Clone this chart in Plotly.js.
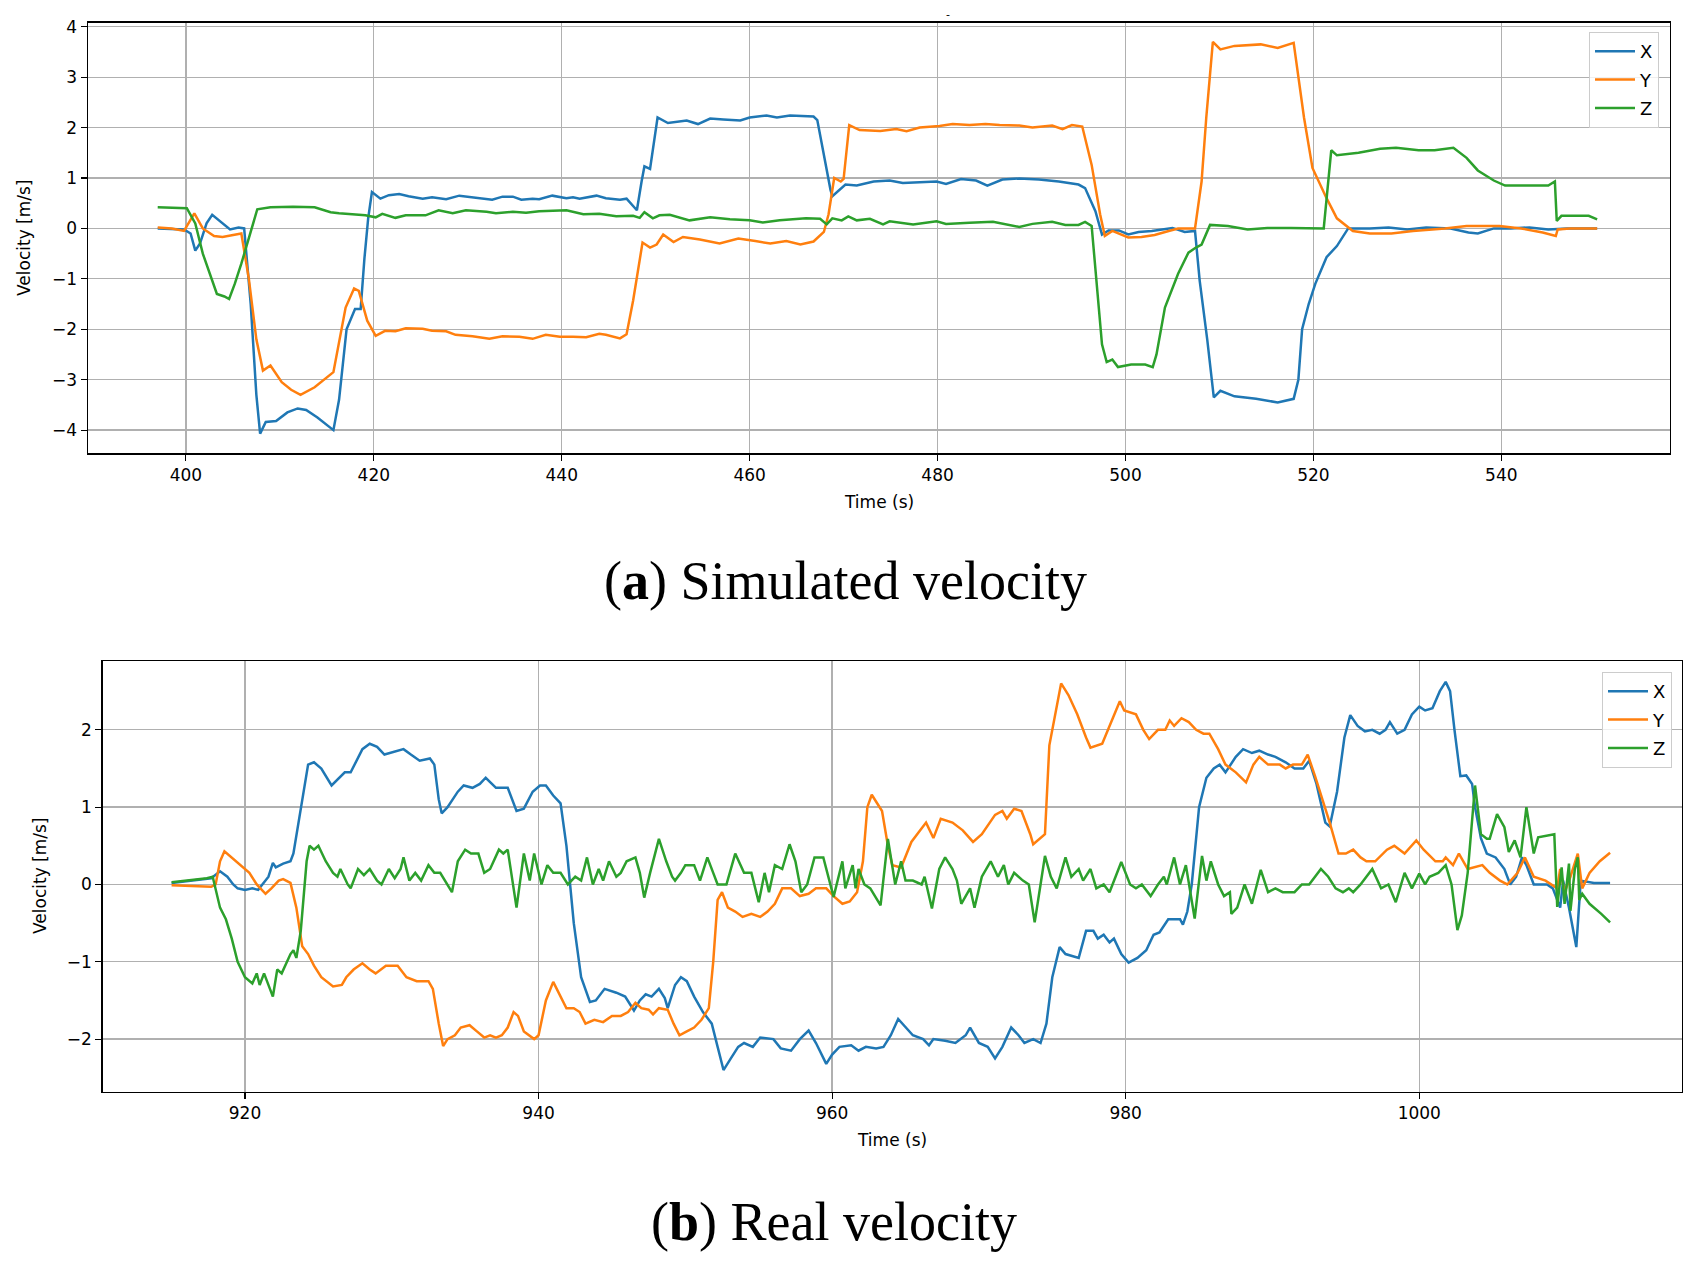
<!DOCTYPE html>
<html>
<head>
<meta charset="utf-8">
<script src="https://cdn.plot.ly/plotly-3.0.1.min.js"></script>
<style>
  html, body { margin: 0; padding: 0; background: #fff; }
  #chart { width: 1699px; height: 1265px; }
</style>
</head>
<body>
<div id="chart"></div>
<script>
// ── (a) simulated velocity ─────────────────────────────────────────────────
const simXt = [
  397, 398.5, 399.8, 400.5, 401, 401.5, 402.2, 402.8, 403.6, 404.7,
  405.6, 406.2, 406.9, 407.5, 407.9, 408.5, 409.6, 410.8, 411.9, 412.8,
  414, 415, 415.7, 416.3, 417.1, 418, 418.6, 419, 419.4, 419.8,
  420.7, 421.6, 422.7, 423.7, 425.2, 426.2, 427.7, 429.1, 430.5, 432.6,
  433.7, 434.8, 435.7, 436.9, 437.6, 439, 440.5, 441.2, 441.9, 443.7,
  444.7, 446.2, 446.9, 448, 448.5, 448.8, 449.4, 449.7, 450.2, 451.3,
  453.3, 454.5, 455.8, 457.2, 459, 460, 461.8, 462.9, 464.3, 466.8,
  467.2, 468.6, 468.8, 470.2, 471.4, 473.2, 474.9, 476.3, 478.1, 479.9,
  480.9, 482.5, 484.1, 485.3, 486.9, 488.7, 490.8, 492.9, 495, 495.7,
  496.8, 497.5, 498.2, 499.3, 500.3, 501.4, 502.8, 505, 506.3, 507.4,
  507.9, 508.7, 509.4, 510.1, 511.6, 513.9, 516.2, 517.9, 518.4, 518.8,
  519.5, 520.2, 521.4, 522.5, 523.7, 526, 528, 530, 532, 534.6,
  536.5, 537.5, 539.2, 541, 543, 545, 547, 550.2
];
const simX = [
  0.0, -0.01, -0.02, -0.1, -0.44, -0.3, 0.1, 0.27, 0.15, -0.02,
  0.02, 0.0, -1.5, -3.3, -4.07, -3.84, -3.82, -3.65, -3.57, -3.6,
  -3.75, -3.9, -4.0, -3.4, -2.0, -1.6, -1.6, -0.6, 0.2, 0.72,
  0.59, 0.66, 0.68, 0.64, 0.59, 0.62, 0.58, 0.65, 0.62, 0.57,
  0.63, 0.63, 0.57, 0.59, 0.58, 0.65, 0.6, 0.62, 0.59, 0.65,
  0.6, 0.57, 0.59, 0.36, 0.93, 1.23, 1.18, 1.59, 2.2, 2.09,
  2.14, 2.07, 2.18, 2.16, 2.14, 2.2, 2.24, 2.2, 2.24, 2.22,
  2.15, 0.77, 0.64, 0.87, 0.85, 0.93, 0.95, 0.9, 0.92, 0.93,
  0.88, 0.98, 0.95, 0.85, 0.97, 0.99, 0.97, 0.93, 0.87, 0.8,
  0.34, -0.12, -0.04, -0.04, -0.12, -0.07, -0.05, 0.01, -0.07, -0.05,
  -1.04, -2.2, -3.35, -3.22, -3.33, -3.38, -3.45, -3.38, -3.0, -2.0,
  -1.5, -1.1, -0.57, -0.35, 0.0, 0.0, 0.02, -0.02, 0.02, 0.0,
  -0.08, -0.1, 0.0, 0.0, 0.02, -0.02, 0.0, 0.0
];

const simYt = [
  397, 398.5, 399.8, 400.9, 401.8, 403, 403.9, 405, 405.9, 406.7,
  407.5, 408.2, 409, 410.2, 411.2, 412.2, 413.7, 415.7, 416.3, 417,
  417.9, 418.4, 419.3, 420.2, 421.2, 422.3, 423.4, 425.2, 426.2, 427.7,
  428.7, 430.5, 432.3, 433.7, 435.5, 436.9, 438.3, 439.8, 441.2, 442.6,
  444, 444.7, 446.2, 446.9, 447.6, 448.6, 449.4, 450.1, 450.8, 451.9,
  452.9, 454.7, 456.8, 458.8, 460.6, 462.2, 463.9, 465.4, 466.8, 467.9,
  468.4, 469, 469.7, 470, 470.6, 471.7, 473.9, 475.6, 476.7, 478.1,
  480.2, 481.6, 483.4, 485.1, 486.6, 488.7, 490.1, 492.2, 493.3, 494.3,
  495.4, 496.4, 497.3, 497.8, 498.6, 499.3, 500.3, 501.7, 503.1, 504.6,
  505.6, 507.4, 508.1, 508.6, 509.3, 510.1, 511.6, 514.4, 516.2, 517.9,
  519, 519.9, 521.4, 522.5, 524.2, 526, 528.3, 530.6, 534, 536.3,
  539.8, 542.1, 544.4, 545.8, 546, 547.3, 550.2
];
const simY = [
  0.02, 0.0, -0.05, 0.3, 0.0, -0.15, -0.17, -0.13, -0.1, -1.0,
  -2.2, -2.82, -2.72, -3.05, -3.2, -3.3, -3.15, -2.85, -2.22, -1.57,
  -1.19, -1.24, -1.83, -2.13, -2.03, -2.04, -1.98, -1.99, -2.03, -2.04,
  -2.11, -2.14, -2.19, -2.14, -2.15, -2.19, -2.11, -2.15, -2.15, -2.16,
  -2.09, -2.11, -2.18, -2.1, -1.43, -0.28, -0.38, -0.32, -0.12, -0.27,
  -0.17, -0.22, -0.3, -0.2, -0.25, -0.3, -0.25, -0.32, -0.26, -0.07,
  0.28, 1.0, 0.93, 0.98, 2.05, 1.95, 1.93, 1.97, 1.93, 2.0,
  2.03, 2.07, 2.05, 2.07, 2.05, 2.04, 2.0, 2.04, 1.97, 2.05,
  2.02, 1.26, 0.28, -0.15, -0.05, -0.1, -0.18, -0.17, -0.13, -0.05,
  0.0, 0.0, 0.93, 2.2, 3.7, 3.55, 3.62, 3.65, 3.58, 3.68,
  2.2, 1.2, 0.6, 0.2, -0.05, -0.1, -0.1, -0.05, 0.0, 0.05,
  0.05, 0.0, -0.08, -0.15, -0.02, 0.0, 0.0
];

const simZt = [
  397, 399, 400.1, 401, 401.8, 403.3, 404.1, 404.6, 405.2, 405.9,
  406.8, 407.6, 409, 411.4, 413.7, 415.4, 416.3, 419.1, 420.2, 420.9,
  422.3, 423.4, 425.5, 426.9, 428.4, 429.8, 432, 433, 434.8, 436.2,
  437.6, 440.5, 442.3, 444, 445.8, 447.6, 448.3, 448.8, 449.7, 450.4,
  451.5, 453.6, 455.8, 457.9, 460, 461.4, 463.2, 466, 467.5, 468.2,
  468.8, 469.8, 470.5, 471.4, 472.8, 474.2, 474.9, 477.4, 479.9, 480.9,
  483.4, 485.9, 488.7, 490.1, 492.2, 493.6, 495, 495.7, 496.4, 496.9,
  497.5, 498, 498.6, 499.2, 500.6, 502.1, 502.9, 503.3, 504.2, 505.6,
  506.7, 507.5, 508.1, 509, 510.9, 513, 515.1, 517.6, 521.1, 521.9,
  522.5, 524.8, 527.1, 528.8, 531.2, 532.9, 534.9, 536.3, 537.5, 539.2,
  540.4, 543.2, 545, 545.7, 545.9, 546.4, 549.3, 550.2
];
const simZ = [
  0.42, 0.4, 0.4, 0.1, -0.5, -1.3, -1.35, -1.4, -1.1, -0.7,
  -0.1, 0.38, 0.42, 0.43, 0.42, 0.32, 0.3, 0.26, 0.22, 0.29,
  0.21, 0.26, 0.26, 0.36, 0.3, 0.36, 0.33, 0.3, 0.33, 0.31,
  0.34, 0.36, 0.28, 0.29, 0.24, 0.25, 0.21, 0.32, 0.2, 0.26,
  0.27, 0.16, 0.22, 0.18, 0.16, 0.12, 0.16, 0.2, 0.19, 0.08,
  0.2, 0.16, 0.24, 0.16, 0.19, 0.08, 0.14, 0.08, 0.14, 0.09,
  0.11, 0.13, 0.03, 0.09, 0.13, 0.07, 0.07, 0.13, 0.05, -1.04,
  -2.3, -2.65, -2.6, -2.75, -2.7, -2.7, -2.75, -2.5, -1.57, -0.9,
  -0.48, -0.38, -0.32, 0.07, 0.05, -0.02, 0.01, 0.01, 0.0, 1.55,
  1.45, 1.5, 1.58, 1.6, 1.55, 1.55, 1.6, 1.4, 1.15, 0.95,
  0.85, 0.85, 0.85, 0.93, 0.15, 0.25, 0.25, 0.18
];

// ── (b) real velocity ─────────────────────────────────────────────────────────
const realXt = [
  915, 916.3, 917.7, 918.3, 918.8, 919.2, 919.5, 920, 920.5, 920.9,
  921.6, 921.9, 922.1, 922.6, 923.1, 923.3, 923.8, 924.3, 924.7, 925.2,
  925.9, 926.3, 926.8, 927.2, 927.6, 928, 928.5, 929, 929.5, 930.2,
  930.8, 931.3, 931.9, 932.6, 932.9, 933.2, 933.4, 933.8, 934.5, 934.9,
  935.5, 936, 936.4, 937.1, 937.9, 938.5, 939, 939.6, 940.1, 940.5,
  941, 941.5, 941.9, 942.4, 942.9, 943.5, 943.9, 944.5, 945.3, 945.9,
  946.5, 946.9, 947.3, 947.7, 948.2, 948.6, 948.8, 949.3, 949.7, 950.1,
  950.6, 951.2, 951.8, 952.2, 952.6, 953.1, 953.6, 954, 954.6, 955.1,
  956, 956.5, 957.2, 957.8, 958.4, 958.9, 959.6, 960, 960.5, 961.3,
  961.8, 962.3, 963, 963.5, 964, 964.5, 965, 965.5, 966.2, 966.6,
  966.9, 967.7, 968.4, 969.1, 969.4, 970, 970.6, 971.1, 971.6, 972.2,
  972.7, 973.1, 973.7, 974.2, 974.6, 975, 975.5, 975.9, 976.8, 977.3,
  977.8, 978.1, 978.5, 978.9, 979.2, 979.7, 980.2, 980.8, 981.4, 981.9,
  982.3, 982.9, 983.7, 983.9, 984.2, 984.5, 985, 985.5, 986, 986.4,
  986.8, 987.5, 988, 988.6, 989.1, 989.7, 990.2, 990.9, 991.5, 992.1,
  992.5, 993, 993.6, 993.9, 994.4, 994.9, 995.3, 995.8, 996.3, 996.8,
  997.3, 997.7, 998, 998.5, 999, 999.5, 1000, 1000.4, 1000.9, 1001.4,
  1001.8, 1002.1, 1002.4, 1002.8, 1003.2, 1003.6, 1003.8, 1004.2, 1004.6, 1005.2,
  1005.8, 1006.2, 1006.6, 1007, 1007.3, 1007.8, 1008.7, 1009.1, 1009.6, 1009.8,
  1010.2, 1010.7, 1011, 1011.9, 1013
];
const realX = [
  0.02, 0.05, 0.08, 0.17, 0.1, 0.0, -0.05, -0.07, -0.05, -0.07,
  0.1, 0.28, 0.22, 0.27, 0.3, 0.4, 1.0, 1.55, 1.58, 1.5,
  1.28, 1.35, 1.45, 1.45, 1.6, 1.75, 1.82, 1.78, 1.68, 1.72,
  1.75, 1.68, 1.6, 1.63, 1.55, 1.1, 0.92, 1.0, 1.2, 1.28,
  1.25, 1.3, 1.38, 1.25, 1.25, 0.95, 0.98, 1.2, 1.28, 1.28,
  1.15, 1.05, 0.5, -0.5, -1.2, -1.52, -1.5, -1.35, -1.4, -1.45,
  -1.63, -1.5, -1.42, -1.45, -1.35, -1.47, -1.6, -1.3, -1.2, -1.25,
  -1.45, -1.65, -1.8, -2.1, -2.4, -2.25, -2.1, -2.05, -2.1, -1.98,
  -2.0, -2.12, -2.15, -2.0, -1.89, -2.05, -2.32, -2.2, -2.1, -2.08,
  -2.15, -2.1, -2.12, -2.1, -1.95, -1.74, -1.85, -1.95, -2.0, -2.08,
  -2.0, -2.02, -2.05, -1.95, -1.85, -2.05, -2.1, -2.25, -2.1, -1.85,
  -1.95, -2.05, -2.0, -2.05, -1.8, -1.2, -0.81, -0.9, -0.95, -0.6,
  -0.6, -0.7, -0.65, -0.75, -0.7, -0.9, -1.01, -0.95, -0.85, -0.65,
  -0.62, -0.45, -0.45, -0.52, -0.35, 0.0, 1.0, 1.38, 1.5, 1.55,
  1.45, 1.65, 1.75, 1.7, 1.73, 1.68, 1.65, 1.58, 1.5, 1.5,
  1.6, 1.3, 0.8, 0.75, 1.2, 1.9, 2.19, 2.05, 1.98, 2.0,
  1.95, 2.0, 2.1, 1.95, 2.0, 2.2, 2.3, 2.25, 2.28, 2.5,
  2.62, 2.5, 2.0, 1.4, 1.41, 1.3, 1.0, 0.6, 0.4, 0.35,
  0.2, 0.0, 0.1, 0.35, 0.25, 0.0, 0.0, -0.05, -0.3, 0.05,
  -0.3, -0.81, 0.05, 0.02, 0.02
];

const realYt = [
  915, 916.3, 917.7, 918, 918.3, 918.6, 919.1, 919.7, 920.3, 920.8,
  921.4, 921.8, 922.3, 922.6, 923.1, 923.5, 923.9, 924.3, 924.7, 925.2,
  926, 926.6, 926.9, 927.4, 928, 928.5, 928.9, 929.6, 930.4, 931,
  931.7, 932.5, 932.8, 933.2, 933.5, 933.8, 934.3, 934.7, 935.3, 935.8,
  936.3, 936.7, 937.1, 937.5, 937.9, 938.3, 938.6, 939, 939.7, 940,
  940.5, 941, 941.5, 941.9, 942.4, 942.8, 943.2, 943.8, 944.4, 945,
  945.6, 946.1, 946.6, 947, 947.5, 947.8, 948.2, 948.8, 949.2, 949.6,
  950.1, 950.6, 951.1, 951.6, 951.9, 952.2, 952.5, 952.9, 953.4, 953.9,
  954.5, 955.1, 955.6, 956.1, 956.6, 957.2, 957.8, 958.4, 958.9, 959.6,
  960.1, 960.7, 961.2, 961.7, 962.1, 962.4, 962.7, 963.2, 963.4, 963.8,
  964.1, 964.7, 965.4, 966, 966.4, 966.9, 967.4, 968.2, 968.9, 969.6,
  970.2, 971.1, 971.6, 971.9, 972.4, 972.9, 973.5, 973.7, 974.2, 974.5,
  974.8, 975.6, 976.1, 976.7, 977.3, 977.6, 978.4, 979, 979.6, 979.9,
  980.3, 980.7, 981.2, 981.6, 982.2, 982.7, 983, 983.3, 983.8, 984.3,
  984.8, 985.3, 985.7, 986.3, 986.8, 987.5, 988.2, 988.7, 989.1, 989.7,
  990.5, 990.9, 991.4, 992, 992.4, 992.9, 993.9, 994.5, 995, 995.5,
  996, 996.4, 997, 997.8, 998.3, 999, 999.8, 1000.3, 1001.1, 1001.6,
  1001.8, 1002.3, 1002.7, 1003.3, 1004.3, 1004.8, 1005.5, 1006, 1006.7, 1007.2,
  1007.8, 1008.6, 1009.4, 1009.6, 1009.9, 1010.3, 1010.8, 1011.1, 1011.6, 1012.3,
  1013
];
const realY = [
  -0.01, -0.02, -0.03, 0.0, 0.3, 0.43, 0.35, 0.25, 0.15, 0.0,
  -0.12, -0.05, 0.05, 0.07, 0.02, -0.3, -0.8, -0.9, -1.05, -1.2,
  -1.32, -1.3, -1.2, -1.1, -1.02, -1.1, -1.15, -1.05, -1.05, -1.2,
  -1.25, -1.25, -1.35, -1.8, -2.09, -2.0, -1.95, -1.85, -1.82, -1.9,
  -1.98, -1.95, -1.98, -1.95, -1.85, -1.65, -1.7, -1.9, -2.0, -1.95,
  -1.5, -1.26, -1.45, -1.6, -1.6, -1.65, -1.8, -1.75, -1.78, -1.7,
  -1.7, -1.65, -1.53, -1.6, -1.62, -1.68, -1.6, -1.62, -1.8, -1.95,
  -1.9, -1.85, -1.75, -1.6, -1.0, -0.2, -0.1, -0.3, -0.35, -0.42,
  -0.38, -0.42, -0.35, -0.25, -0.05, -0.05, -0.15, -0.12, -0.05, -0.05,
  -0.15, -0.25, -0.22, -0.1, 0.3, 1.0, 1.16, 1.0, 0.95, 0.5,
  0.25, 0.22, 0.55, 0.7, 0.8, 0.6, 0.85, 0.8, 0.7, 0.55,
  0.65, 0.9, 0.95, 0.85, 0.98, 0.95, 0.65, 0.52, 0.6, 0.65,
  1.8, 2.6, 2.45, 2.2, 1.9, 1.77, 1.82, 2.1, 2.37, 2.25,
  2.22, 2.2, 2.0, 1.88, 2.0, 2.0, 2.12, 2.05, 2.15, 2.1,
  2.0, 1.95, 1.95, 1.75, 1.55, 1.45, 1.32, 1.55, 1.65, 1.55,
  1.55, 1.5, 1.55, 1.55, 1.68, 1.4, 0.8, 0.4, 0.4, 0.45,
  0.35, 0.3, 0.3, 0.45, 0.5, 0.4, 0.57, 0.45, 0.3, 0.3,
  0.35, 0.25, 0.4, 0.2, 0.25, 0.15, 0.05, 0.0, 0.15, 0.35,
  0.1, 0.05, -0.05, 0.2, -0.1, 0.1, 0.4, -0.05, 0.15, 0.3,
  0.41
];

const realZt = [
  915, 916.3, 917.4, 917.8, 918.3, 918.7, 919.1, 919.5, 920, 920.5,
  920.8, 921, 921.3, 921.9, 922.2, 922.5, 923.1, 923.3, 923.5, 923.8,
  924.2, 924.4, 924.7, 925, 925.5, 926, 926.3, 926.5, 927, 927.2,
  927.7, 928.1, 928.5, 929, 929.3, 929.8, 930.2, 930.6, 930.8, 931.2,
  931.6, 932, 932.5, 932.9, 933.3, 934.1, 934.5, 935, 935.4, 935.9,
  936.3, 936.7, 937.3, 937.6, 937.9, 938.5, 939, 939.4, 939.7, 940.2,
  940.6, 941, 941.5, 942, 942.5, 942.9, 943.3, 943.7, 944.1, 944.4,
  944.8, 945.3, 945.6, 946, 946.6, 946.9, 947.2, 947.6, 948.2, 948.7,
  949.1, 949.3, 949.7, 950, 950.6, 951, 951.5, 951.9, 952.2, 952.8,
  953.4, 954, 954.5, 955, 955.4, 955.7, 956.1, 956.6, 957.1, 957.5,
  957.9, 958.3, 958.8, 959.4, 960.1, 960.7, 960.9, 961.4, 961.6, 961.8,
  962.2, 962.6, 963.3, 963.8, 964.3, 964.7, 965, 965.5, 966.1, 966.3,
  966.8, 967.3, 967.7, 968.2, 968.5, 968.8, 969.4, 969.7, 970.2, 970.8,
  971.3, 971.7, 972, 972.4, 973, 973.4, 973.8, 974.2, 974.5, 974.9,
  975.3, 975.9, 976.3, 976.8, 977.1, 977.6, 978, 978.5, 978.9, 979.7,
  980.3, 980.7, 981.1, 981.7, 982.2, 982.6, 982.8, 983.3, 983.7, 984.1,
  984.7, 985.2, 985.5, 985.8, 986.3, 986.7, 987.1, 987.2, 987.6, 988.1,
  988.6, 989.2, 989.7, 990.2, 990.7, 991.5, 992, 992.5, 993.3, 993.8,
  994.3, 994.8, 995.2, 995.5, 996, 996.8, 997.4, 997.9, 998.4, 999,
  999.5, 1000, 1000.4, 1000.7, 1001.3, 1001.8, 1002.2, 1002.6, 1002.9, 1003.3,
  1003.6, 1003.8, 1004.2, 1004.6, 1004.8, 1005.3, 1005.8, 1006.1, 1006.5, 1006.9,
  1007.3, 1007.8, 1008.1, 1008.8, 1009.2, 1009.4, 1009.7, 1009.9, 1010.2, 1010.3,
  1010.6, 1010.8, 1010.9, 1011.1, 1011.6, 1012.4, 1013
];
const realZ = [
  0.03, 0.06, 0.08, 0.1, -0.3, -0.45, -0.7, -1.0, -1.2, -1.28,
  -1.15, -1.3, -1.15, -1.45, -1.1, -1.15, -0.9, -0.85, -0.95, -0.6,
  0.3, 0.5, 0.45, 0.5, 0.3, 0.15, 0.1, 0.2, 0.0, -0.05,
  0.2, 0.12, 0.2, 0.05, 0.0, 0.2, 0.08, 0.2, 0.35, 0.05,
  0.15, 0.05, 0.25, 0.15, 0.15, -0.1, 0.3, 0.45, 0.4, 0.4,
  0.15, 0.2, 0.45, 0.4, 0.45, -0.3, 0.4, 0.05, 0.4, 0.0,
  0.25, 0.15, 0.15, 0.0, 0.1, 0.05, 0.35, 0.0, 0.2, 0.05,
  0.3, 0.1, 0.15, 0.3, 0.35, 0.15, -0.17, 0.15, 0.59, 0.3,
  0.1, 0.05, 0.15, 0.25, 0.25, 0.05, 0.35, 0.15, 0.0, 0.0,
  0.4, 0.15, 0.15, -0.23, 0.15, -0.1, 0.25, 0.2, 0.52, 0.3,
  -0.1, 0.0, 0.35, 0.35, -0.16, 0.3, -0.05, 0.25, -0.05, 0.2,
  0.0, -0.05, -0.27, 0.59, 0.0, 0.3, 0.05, 0.05, 0.0, 0.1,
  -0.31, 0.2, 0.35, 0.2, 0.05, -0.25, -0.05, -0.3, 0.1, 0.3,
  0.1, 0.25, 0.0, 0.15, 0.05, 0.0, -0.49, 0.0, 0.37, 0.1,
  -0.05, 0.35, 0.1, 0.2, 0.05, 0.2, -0.05, 0.0, -0.1, 0.29,
  0.0, -0.05, 0.0, -0.15, 0.0, 0.1, 0.0, 0.35, 0.0, 0.25,
  -0.44, 0.37, 0.05, 0.3, 0.0, -0.15, -0.1, -0.38, -0.3, 0.0,
  -0.25, 0.19, -0.1, -0.05, -0.1, -0.1, 0.0, 0.0, 0.2, 0.1,
  -0.05, -0.1, -0.05, -0.1, 0.0, 0.2, -0.05, 0.0, -0.23, 0.15,
  -0.05, 0.14, 0.0, 0.1, 0.15, 0.25, 0.0, -0.59, -0.4, 0.15,
  0.9, 1.28, 0.65, 0.59, 0.59, 0.91, 0.74, 0.42, 0.57, 0.35,
  1.0, 0.4, 0.61, 0.63, 0.65, -0.29, 0.22, -0.25, 0.27, -0.34,
  0.2, 0.35, -0.2, -0.12, -0.25, -0.38, -0.49
];

const SERIES = ['X', 'Y', 'Z'];
const COLORS = ['#1f77b4', '#ff7f0e', '#2ca02c'];   // matplotlib tab10

// ── figure geometry (px in a 1699 x 1265 page) ──────────────────────────────
const W = 1699, H = 1265;
const px = (x) => x / W;
const py = (y) => 1 - y / H;

const FONT = 'DejaVu Sans, sans-serif';
const SERIF = 'Liberation Serif, DejaVu Serif, serif';

function trace(t, v, i, xa, ya, legend) {
  return {
    x: t, y: v,
    type: 'scatter', mode: 'lines',
    name: SERIES[i],
    xaxis: xa, yaxis: ya,
    legend: legend,
    legendgroup: legend + SERIES[i],
    line: { color: COLORS[i], width: 2.5 },
  };
}

function axis(extra) {
  return Object.assign({
    showgrid: true,
    gridcolor: '#b0b0b0',
    gridwidth: 1.3,
    zeroline: false,
    showline: true,
    mirror: true,
    linecolor: '#000',
    linewidth: 1.3,
    ticks: 'outside',
    ticklen: 6,
    tickwidth: 1.2,
    tickcolor: '#000',
    tickfont: { family: FONT, size: 17, color: '#000' },
    automargin: false,
    fixedrange: true,
  }, extra);
}

function legendBox(x, y) {
  return {
    x: x, y: y, xanchor: 'right', yanchor: 'top',
    bgcolor: 'rgba(255,255,255,0.8)',
    bordercolor: '#cccccc',
    borderwidth: 1,
    font: { family: FONT, size: 18, color: '#000' },
    itemwidth: 40,
    tracegroupgap: 2,
  };
}

const data = [
  trace(simXt, simX, 0, 'x', 'y', 'legend'),
  trace(simYt, simY, 1, 'x', 'y', 'legend'),
  trace(simZt, simZ, 2, 'x', 'y', 'legend'),
  trace(realXt, realX, 0, 'x2', 'y2', 'legend2'),
  trace(realYt, realY, 1, 'x2', 'y2', 'legend2'),
  trace(realZt, realZ, 2, 'x2', 'y2', 'legend2'),
];

function label(text, x, y, size, extra) {
  return Object.assign({
    text: text, xref: 'paper', yref: 'paper',
    x: px(x), y: py(y), xanchor: 'center', yanchor: 'middle',
    showarrow: false,
    font: { family: FONT, size: size, color: '#000' },
  }, extra);
}

const layout = {
  width: W, height: H,
  margin: { t: 0, r: 0, b: 0, l: 0, pad: 0 },
  paper_bgcolor: '#fff',
  plot_bgcolor: '#fff',
  showlegend: true,
  xaxis: axis({ domain: [px(87.8), px(1669.5)], range: [389.56, 557.9], anchor: 'y', tick0: 400, dtick: 20 }),
  yaxis: axis({ domain: [py(453.3), py(22.7)], range: [-4.46, 4.08], anchor: 'x', tick0: 0, dtick: 1 }),
  xaxis2: axis({ domain: [px(102.6), px(1682)], range: [910.3, 1017.9], anchor: 'y2', tick0: 920, dtick: 20 }),
  yaxis2: axis({ domain: [py(1091.7), py(661)], range: [-2.68, 2.89], anchor: 'x2', tick0: 0, dtick: 1 }),
  legend: legendBox(px(1659), py(32)),
  legend2: legendBox(px(1672), py(672)),
  annotations: [
    label('Velocity [m/s]', 24, 238, 17, { textangle: -90 }),
    label('Time (s)', 878.6, 502, 17),
    label('Velocity [m/s]', 40, 876, 17, { textangle: -90 }),
    label('Time (s)', 892, 1140, 17),
    label('-', 948, 14, 11),
    label('(<b>a</b>) Simulated velocity', 845, 581, 54, { font: { family: SERIF, size: 54, color: '#000' } }),
    label('(<b>b</b>) Real velocity', 834, 1222, 54, { font: { family: SERIF, size: 54, color: '#000' } }),
  ],
};

Plotly.newPlot('chart', data, layout, { displayModeBar: false, staticPlot: true });
</script>
</body>
</html>
